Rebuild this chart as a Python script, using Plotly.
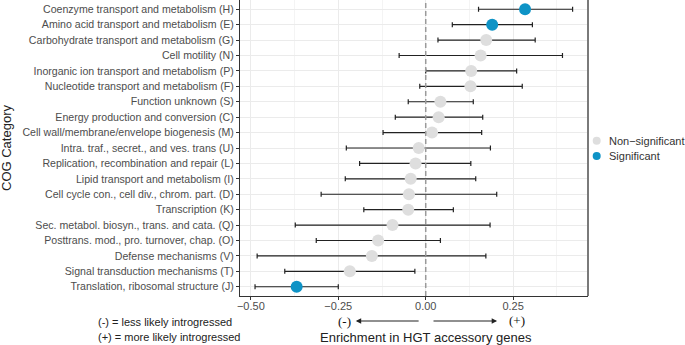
import plotly.graph_objects as go

categories = [
    "Coenzyme transport and metabolism (H)",
    "Amino acid transport and metabolism (E)",
    "Carbohydrate transport and metabolism (G)",
    "Cell motility (N)",
    "Inorganic ion transport and metabolism (P)",
    "Nucleotide transport and metabolism (F)",
    "Function unknown (S)",
    "Energy production and conversion (C)",
    "Cell wall/membrane/envelope biogenesis (M)",
    "Intra. traf., secret., and ves. trans (U)",
    "Replication, recombination and repair (L)",
    "Lipid transport and metabolism (I)",
    "Cell cycle con., cell div., chrom. part. (D)",
    "Transcription (K)",
    "Sec. metabol. biosyn., trans. and cata. (Q)",
    "Posttrans. mod., pro. turnover, chap. (O)",
    "Defense mechanisms (V)",
    "Signal transduction mechanisms (T)",
    "Translation, ribosomal structure (J)",
]
estimate = [0.284, 0.190, 0.173, 0.157, 0.130, 0.128, 0.042, 0.037, 0.018, -0.020,
            -0.029, -0.043, -0.048, -0.050, -0.095, -0.136, -0.154, -0.217, -0.369]
lower = [0.151, 0.076, 0.035, -0.076, 0.000, -0.017, -0.050, -0.087, -0.122, -0.227,
         -0.189, -0.230, -0.299, -0.177, -0.373, -0.313, -0.482, -0.403, -0.488]
upper = [0.420, 0.305, 0.313, 0.391, 0.260, 0.276, 0.136, 0.163, 0.160, 0.185,
         0.129, 0.143, 0.203, 0.079, 0.184, 0.042, 0.172, -0.031, -0.250]
significant = [True, True, False, False, False, False, False, False, False, False,
               False, False, False, False, False, False, False, False, True]
x_ticks = [-0.50, -0.25, 0.00, 0.25]
legend_labels = ["Non\u2212significant", "Significant"]

SIG = "#0E93C6"
NONSIG = "#DEDEDE"
PW = 348.0   # panel width in px
PH = 296.0   # panel height in px

fig = go.Figure()

# error bars
fig.add_trace(go.Scatter(
    x=estimate, y=categories, mode="markers",
    marker=dict(size=1, color="rgba(0,0,0,0)"),
    error_x=dict(type="data", symmetric=False,
                 array=[u - e for u, e in zip(upper, estimate)],
                 arrayminus=[e - l for e, l in zip(estimate, lower)],
                 color="#222222", thickness=1.2, width=2.5),
    showlegend=False, hoverinfo="skip"))

for flag, name, col in [(False, legend_labels[0], NONSIG), (True, legend_labels[1], SIG)]:
    xs = [e for e, s in zip(estimate, significant) if s == flag]
    ys = [c for c, s in zip(categories, significant) if s == flag]
    fig.add_trace(go.Scatter(x=xs, y=ys, mode="markers",
                             marker=dict(size=12, color=col),
                             showlegend=False, name=name))

fig.add_shape(type="line", xref="x", yref="paper", x0=0, x1=0, y0=0, y1=1,
              line=dict(color="#9a9a9a", width=1.5, dash="5px,3px"), layer="above")
fig.add_shape(type="line", xref="paper", yref="paper", x0=1, x1=1, y0=0, y1=1,
              line=dict(color="#7a7a7a", width=2))

# manual legend
for i, (lab, col) in enumerate(zip(legend_labels, [NONSIG, SIG])):
    ypx = 140.7 + i * 15.4
    yp = 1 - ypx / PH
    xp = 1 + (596.7 - 588) / PW
    fig.add_shape(type="circle", xref="paper", yref="paper",
                  xsizemode="pixel", ysizemode="pixel", xanchor=xp, yanchor=yp,
                  x0=-4, x1=4, y0=-4, y1=4, fillcolor=col, line=dict(width=0))
    fig.add_annotation(text=lab, xref="paper", yref="paper",
                       x=1 + (607 - 588) / PW, y=yp, xanchor="left", yanchor="middle",
                       showarrow=False,
                       font=dict(family="Liberation Sans, Arial", size=11, color="#333"))

ann_font = dict(family="Liberation Sans, Arial", size=11, color="#222")
fig.add_annotation(text="Enrichment in HGT accessory genes", xref="x", yref="paper",
                   x=0, y=0, yshift=-41, yanchor="middle", xanchor="center", showarrow=False,
                   font=dict(family="Liberation Sans, Arial", size=13, color="#222"))
fig.add_annotation(text="COG Category", xref="paper", yref="paper",
                   x=(6 - 240) / PW, y=0.5, textangle=-90, xanchor="center", yanchor="middle",
                   showarrow=False,
                   font=dict(family="Liberation Sans, Arial", size=13, color="#222"))
fig.add_annotation(text="(-)", xref="x", yref="paper", x=-0.232, y=0, yshift=-25,
                   xanchor="center", yanchor="middle",
                   showarrow=False, font=dict(family="Liberation Serif", size=13, color="#111"))
fig.add_annotation(text="(+)", xref="x", yref="paper", x=0.262, y=0, yshift=-24,
                   xanchor="center", yanchor="middle",
                   showarrow=False, font=dict(family="Liberation Serif", size=13, color="#111"))
fig.add_annotation(text="", xref="x", yref="paper", x=-0.200, y=-(321 - 296) / PH,
                   axref="x", ax=-0.016, ay=0, showarrow=True,
                   arrowhead=2, arrowsize=0.9, arrowwidth=1.2, arrowcolor="#222")
fig.add_annotation(text="", xref="x", yref="paper", x=0.204, y=-(321 - 296) / PH,
                   axref="x", ax=0.018, ay=0, showarrow=True,
                   arrowhead=2, arrowsize=0.9, arrowwidth=1.2, arrowcolor="#222")
fig.add_annotation(text="(-) = less likely introgressed", xref="paper", yref="paper",
                   x=(96 - 240) / PW, y=0, yshift=-26, xanchor="left", yanchor="middle",
                   showarrow=False, font=ann_font)
fig.add_annotation(text="(+) = more likely introgressed", xref="paper", yref="paper",
                   x=(96 - 240) / PW, y=0, yshift=-41, xanchor="left", yanchor="middle",
                   showarrow=False, font=ann_font)

fig.update_layout(
    width=685, height=345,
    margin=dict(l=240, r=97, t=0, b=49, autoexpand=False),
    plot_bgcolor="white", paper_bgcolor="white",
    font=dict(family="Liberation Sans, Arial", size=11, color="#4d4d4d"),
    showlegend=False,
    xaxis=dict(range=[-0.531, 0.464], tickvals=x_ticks, tickformat=".2f",
               showgrid=True, gridcolor="#EBEBEB", gridwidth=1,
               minor=dict(dtick=0.125, tick0=0.125, showgrid=True, gridcolor="#F4F4F4", gridwidth=1),
               zeroline=False, showline=True, linecolor="#333", linewidth=1.2, mirror=True,
               ticks="outside", ticklen=3, tickcolor="#333", automargin=False,
               ticklabelstandoff=-3,
               tickfont=dict(size=11, color="#4d4d4d")),
    yaxis=dict(type="category", categoryorder="array", categoryarray=categories[::-1],
               range=[-0.6, 18.6], automargin=False,
               showgrid=True, gridcolor="#EBEBEB", gridwidth=1, zeroline=False,
               showline=True, linecolor="#333", linewidth=1.2,
               ticks="outside", ticklen=3, tickcolor="#333",
               tickfont=dict(size=10.6, color="#4d4d4d")),
)

fig.write_html("out.html", config={"displayModeBar": False},
               post_script="document.body.style.margin='0';")
